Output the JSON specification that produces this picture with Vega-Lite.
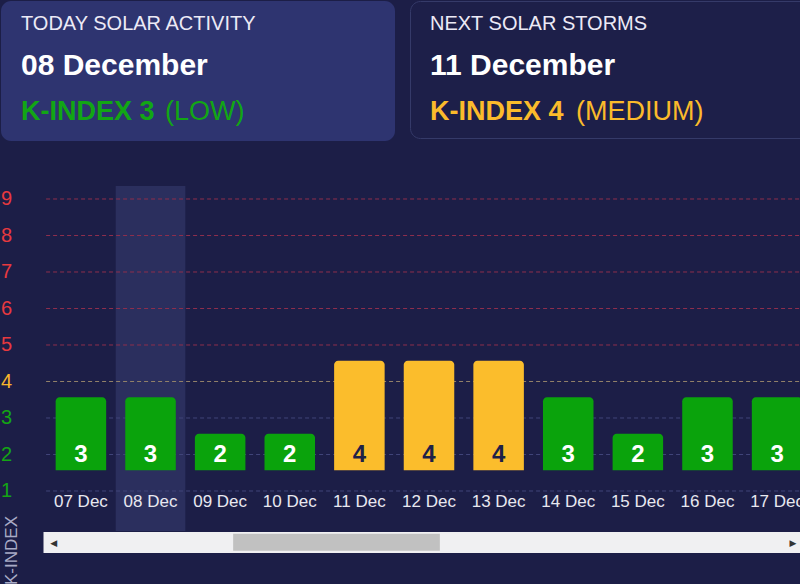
{
  "$schema": "https://vega.github.io/schema/vega-lite/v6.json",
  "background": "#1c1e47",
  "padding": 0,
  "config": {"font": "Liberation Sans", "view": {"stroke": null}},
  "spacing": 45,
  "vconcat": [
    {
      "spacing": 14,
      "hconcat": [
        {
          "width": 394,
          "height": 140,
          "view": {"fill": "#2e3470", "cornerRadius": 10, "stroke": null},
          "data": {"values": [{"heading": "TODAY SOLAR ACTIVITY", "day": "08 December", "kindex": "K-INDEX 3", "level": "(LOW)"}]},
          "layer": [
            {"mark": {"type": "text", "align": "left", "baseline": "alphabetic", "fontSize": 20, "color": "#eceaf6"},
             "encoding": {"text": {"field": "heading"}, "x": {"value": 20}, "y": {"value": 28.5}}},
            {"mark": {"type": "text", "align": "left", "baseline": "alphabetic", "fontSize": 30, "fontWeight": "bold", "color": "#ffffff"},
             "encoding": {"text": {"field": "day"}, "x": {"value": 20}, "y": {"value": 74}}},
            {"mark": {"type": "text", "align": "left", "baseline": "alphabetic", "fontSize": 27, "fontWeight": "bold", "color": "#12a614"},
             "encoding": {"text": {"field": "kindex"}, "x": {"value": 20}, "y": {"value": 119}}},
            {"mark": {"type": "text", "align": "left", "baseline": "alphabetic", "fontSize": 27, "color": "#12a614"},
             "encoding": {"text": {"field": "level"}, "x": {"value": 164}, "y": {"value": 119}}}
          ]
        },
        {
          "width": 400,
          "height": 137,
          "view": {"fill": "#1d1f49", "cornerRadius": 10, "stroke": "#353a69", "strokeWidth": 1},
          "data": {"values": [{"heading": "NEXT SOLAR STORMS", "day": "11 December", "kindex": "K-INDEX 4", "level": "(MEDIUM)"}]},
          "layer": [
            {"mark": {"type": "text", "align": "left", "baseline": "alphabetic", "fontSize": 20, "color": "#eceaf6"},
             "encoding": {"text": {"field": "heading"}, "x": {"value": 20}, "y": {"value": 28.5}}},
            {"mark": {"type": "text", "align": "left", "baseline": "alphabetic", "fontSize": 30, "fontWeight": "bold", "color": "#ffffff"},
             "encoding": {"text": {"field": "day"}, "x": {"value": 20}, "y": {"value": 74}}},
            {"mark": {"type": "text", "align": "left", "baseline": "alphabetic", "fontSize": 27, "fontWeight": "bold", "color": "#fbbb2b"},
             "encoding": {"text": {"field": "kindex"}, "x": {"value": 20}, "y": {"value": 119}}},
            {"mark": {"type": "text", "align": "left", "baseline": "alphabetic", "fontSize": 27, "color": "#fbbb2b"},
             "encoding": {"text": {"field": "level"}, "x": {"value": 166}, "y": {"value": 119}}}
          ]
        }
      ]
    },
    {
      "width": 800,
      "height": 345,
      "data": {"values": [
        {"date": "07 Dec", "k": 3, "level": "LOW"},
        {"date": "08 Dec", "k": 3, "level": "LOW"},
        {"date": "09 Dec", "k": 2, "level": "LOW"},
        {"date": "10 Dec", "k": 2, "level": "LOW"},
        {"date": "11 Dec", "k": 4, "level": "MEDIUM"},
        {"date": "12 Dec", "k": 4, "level": "MEDIUM"},
        {"date": "13 Dec", "k": 4, "level": "MEDIUM"},
        {"date": "14 Dec", "k": 3, "level": "LOW"},
        {"date": "15 Dec", "k": 2, "level": "LOW"},
        {"date": "16 Dec", "k": 3, "level": "LOW"},
        {"date": "17 Dec", "k": 3, "level": "LOW"}
      ]},
      "resolve": {"axis": {"x": "independent"}},
      "layer": [
        {
          "transform": [{"filter": "datum.date === '08 Dec'"}],
          "mark": {"type": "rect", "color": "#2b2f5e"},
          "encoding": {
            "x": {"field": "date", "type": "nominal", "sort": "ascending",
                  "axis": {"orient": "bottom", "offset": 2.3, "domain": false, "labels": false, "grid": false, "ticks": true,
                           "values": ["11 Dec"], "tickSize": 17, "tickWidth": 206.7, "tickColor": "#c1c1c1", "tickOffset": -23.7,
                           "tickCap": "butt", "title": null, "zindex": 2}}
          }
        },
        {
          "data": {"values": [
            {"k": 1, "band": "LOW"}, {"k": 2, "band": "LOW"}, {"k": 3, "band": "LOW"},
            {"k": 4, "band": "MEDIUM"},
            {"k": 5, "band": "HIGH"}, {"k": 6, "band": "HIGH"}, {"k": 7, "band": "HIGH"}, {"k": 8, "band": "HIGH"}, {"k": 9, "band": "HIGH"}
          ]},
          "mark": {"type": "rule", "strokeDash": [4, 3], "strokeWidth": 1, "clip": true},
          "encoding": {
            "y": {"field": "k", "type": "quantitative"},
            "x": {"datum": "07 Dec", "type": "nominal", "bandPosition": 0, "axis": null},
            "x2": {"datum": "17 Dec", "bandPosition": 1},
            "stroke": {"field": "band", "type": "nominal", "scale": {"domain": ["LOW", "MEDIUM", "HIGH"], "range": ["#41457a", "#93826a", "#8f2f4d"]}, "legend": null}
          }
        },
        {
          "mark": {"type": "bar", "width": {"band": 0.7256}, "cornerRadiusTopLeft": 4, "cornerRadiusTopRight": 4,
                   "yOffset": -20.7, "y2Offset": -20.7, "clip": true},
          "encoding": {
            "x": {"field": "date", "type": "nominal", "sort": "ascending",
                  "scale": {"range": [42, 814], "paddingInner": 0, "paddingOuter": 0.0445},
                  "axis": {"orient": "bottom", "offset": 11, "domainWidth": 21, "domainColor": "#f0f0f2", "domainCap": "butt",
                           "ticks": false, "grid": false, "labelPadding": -41, "labelBaseline": "middle", "labelAngle": 0,
                           "labelFontSize": 17, "labelColor": "#e8e8f0", "title": null, "zindex": 1}},
            "y": {"field": "k", "type": "quantitative",
                  "scale": {"domain": [-0.096, 9.356], "nice": false, "zero": false},
                  "axis": {"values": [1, 2, 3, 4, 5, 6, 7, 8, 9], "grid": false,
                           "domain": false, "ticks": false, "labelPadding": -10.5, "labelFontSize": 20, "labelAlign": "right", "labelBaseline": "middle",
                           "labelColor": {"expr": "datum.value >= 5 ? '#e8393f' : datum.value == 4 ? '#f7b52c' : '#14a514'"},
                           "title": "K-INDEX", "titleX": 15.5, "titleY": 364, "titleAngle": -90, "titleAlign": "center", "titleBaseline": "alphabetic",
                           "titleFontSize": 17, "titleFontWeight": "normal", "titleColor": "#a9abc6"}},
            "y2": {"datum": 1},
            "color": {"field": "level", "type": "nominal", "scale": {"domain": ["LOW", "MEDIUM"], "range": ["#0aa30c", "#fbbd2c"]}, "legend": null}
          }
        },
        {
          "mark": {"type": "text", "fontSize": 24, "fontWeight": "bold", "baseline": "alphabetic", "dy": -29.3, "clip": true},
          "encoding": {
            "x": {"field": "date", "type": "nominal", "sort": "ascending",
                  "axis": {"orient": "bottom", "offset": 11, "domain": false, "ticks": false, "grid": false, "title": null,
                           "values": ["07 Dec", "17 Dec"], "labelExpr": "datum.value == '07 Dec' ? '◀' : '▶'",
                           "labelFont": "DejaVu Sans", "labelFontSize": 9, "labelColor": "#333333", "labelPadding": 0,
                           "labelBaseline": "middle", "labelAngle": 0,
                           "labelOffset": {"expr": "datum.value == '07 Dec' ? -27.2 : 15.9"}, "zindex": 3}},
            "y": {"datum": 1, "type": "quantitative"},
            "text": {"field": "k", "type": "quantitative"},
            "color": {"condition": {"test": "datum.k >= 4", "value": "#1e2148"}, "value": "#ffffff"}
          }
        }
      ]
    }
  ]
}
